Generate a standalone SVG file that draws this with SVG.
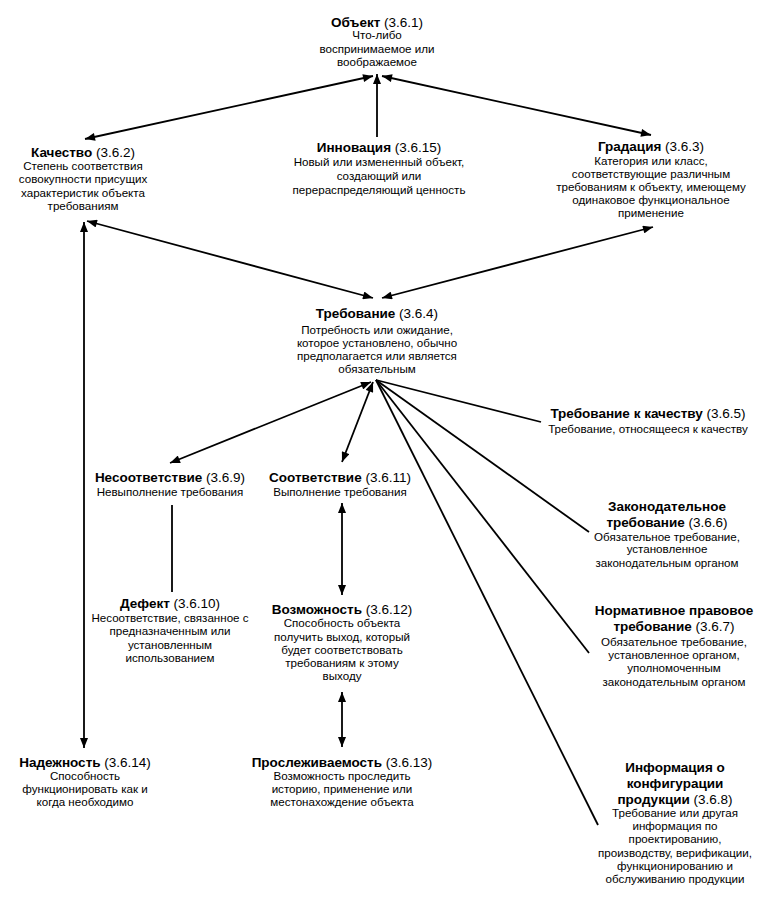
<svg xmlns="http://www.w3.org/2000/svg" width="767" height="899" viewBox="0 0 767 899">
<style>
text{font-family:"Liberation Sans",Arial,sans-serif;text-anchor:middle;fill:#000}
.t{font-size:13.5px}
.t tspan.b{font-weight:bold}
.d{font-size:11.6px}
.e{stroke:#000;stroke-width:1.8;fill:none}
.a2{marker-start:url(#ah);marker-end:url(#ah)}
.a1{marker-end:url(#ah)}
</style>
<defs>
<marker id="ah" viewBox="0 0 10 8" refX="10" refY="4" markerWidth="11" markerHeight="8" markerUnits="userSpaceOnUse" orient="auto-start-reverse">
<path d="M0,0 L10,4 L0,8 Z" fill="#000"/>
</marker>
</defs>
<rect width="767" height="899" fill="#fff"/>
<g id="connectors">
<line class="e a2" x1="85" y1="139" x2="373" y2="76"/>
<line class="e a1" x1="377" y1="137" x2="377" y2="74"/>
<line class="e a2" x1="651" y1="135" x2="382" y2="76"/>
<line class="e a2" x1="87" y1="221" x2="373" y2="298"/>
<line class="e a2" x1="653" y1="227" x2="382" y2="298"/>
<line class="e a2" x1="84" y1="222" x2="84" y2="748"/>
<line class="e a2" x1="371" y1="382" x2="170" y2="463"/>
<line class="e a2" x1="373" y1="382" x2="342" y2="462"/>
<line class="e" x1="376" y1="380" x2="541" y2="422"/>
<line class="e" x1="376" y1="380" x2="589" y2="532"/>
<line class="e" x1="376" y1="380" x2="589" y2="653"/>
<line class="e" x1="376" y1="380" x2="598" y2="825"/>
<line class="e" x1="172" y1="505" x2="172" y2="592"/>
<line class="e a2" x1="342" y1="503" x2="342" y2="595"/>
<line class="e a2" x1="342" y1="692" x2="342" y2="747"/>
</g>
<g id="n361">
<text class="t" x="377" y="27"><tspan class="b">Объект</tspan> (3.6.1)</text>
<text class="d" x="377" y="39">Что-либо</text>
<text class="d" x="377" y="53">воспринимаемое или</text>
<text class="d" x="377" y="66">воображаемое</text>
</g>
<g id="n362">
<text class="t" x="83" y="157"><tspan class="b">Качество</tspan> (3.6.2)</text>
<text class="d" x="83" y="170">Степень соответствия</text>
<text class="d" x="83" y="183">совокупности присущих</text>
<text class="d" x="83" y="197">характеристик объекта</text>
<text class="d" x="83" y="210">требованиям</text>
</g>
<g id="n3615">
<text class="t" x="379" y="152"><tspan class="b">Инновация</tspan> (3.6.15)</text>
<text class="d" x="379" y="166">Новый или измененный объект,</text>
<text class="d" x="379" y="180">создающий или</text>
<text class="d" x="379" y="194">перераспределяющий ценность</text>
</g>
<g id="n363">
<text class="t" x="651" y="151"><tspan class="b">Градация</tspan> (3.6.3)</text>
<text class="d" x="651" y="165">Категория или класс,</text>
<text class="d" x="651" y="178">соответствующие различным</text>
<text class="d" x="651" y="191">требованиям к объекту, имеющему</text>
<text class="d" x="651" y="204">одинаковое функциональное</text>
<text class="d" x="651" y="217">применение</text>
</g>
<g id="n364">
<text class="t" x="377" y="318"><tspan class="b">Требование</tspan> (3.6.4)</text>
<text class="d" x="377" y="334">Потребность или ожидание,</text>
<text class="d" x="377" y="347">которое установлено, обычно</text>
<text class="d" x="377" y="360">предполагается или является</text>
<text class="d" x="377" y="373">обязательным</text>
</g>
<g id="n365">
<text class="t" x="648" y="418"><tspan class="b">Требование к качеству</tspan> (3.6.5)</text>
<text class="d" x="648" y="433">Требование, относящееся к качеству</text>
</g>
<g id="n366">
<text class="t" x="667" y="511"><tspan class="b">Законодательное</tspan></text>
<text class="t" x="667" y="527"><tspan class="b">требование</tspan> (3.6.6)</text>
<text class="d" x="667" y="541">Обязательное требование,</text>
<text class="d" x="667" y="553">установленное</text>
<text class="d" x="667" y="567">законодательным органом</text>
</g>
<g id="n367">
<text class="t" x="674" y="615"><tspan class="b">Нормативное правовое</tspan></text>
<text class="t" x="674" y="631"><tspan class="b">требование</tspan> (3.6.7)</text>
<text class="d" x="674" y="646">Обязательное требование,</text>
<text class="d" x="674" y="659">установленное органом,</text>
<text class="d" x="674" y="672">уполномоченным</text>
<text class="d" x="674" y="686">законодательным органом</text>
</g>
<g id="n368">
<text class="t" x="675" y="772"><tspan class="b">Информация о</tspan></text>
<text class="t" x="675" y="788"><tspan class="b">конфигурации</tspan></text>
<text class="t" x="675" y="804"><tspan class="b">продукции</tspan> (3.6.8)</text>
<text class="d" x="675" y="817">Требование или другая</text>
<text class="d" x="675" y="830">информация по</text>
<text class="d" x="675" y="843">проектированию,</text>
<text class="d" x="675" y="857">производству, верификации,</text>
<text class="d" x="675" y="870">функционированию и</text>
<text class="d" x="675" y="883">обслуживанию продукции</text>
</g>
<g id="n369">
<text class="t" x="170" y="482"><tspan class="b">Несоответствие</tspan> (3.6.9)</text>
<text class="d" x="170" y="496">Невыполнение требования</text>
</g>
<g id="n3611">
<text class="t" x="340" y="482"><tspan class="b">Соответствие</tspan> (3.6.11)</text>
<text class="d" x="340" y="496">Выполнение требования</text>
</g>
<g id="n3610">
<text class="t" x="170" y="608"><tspan class="b">Дефект</tspan> (3.6.10)</text>
<text class="d" x="170" y="622">Несоответствие, связанное с</text>
<text class="d" x="170" y="635">предназначенным или</text>
<text class="d" x="170" y="649">установленным</text>
<text class="d" x="170" y="662">использованием</text>
</g>
<g id="n3612">
<text class="t" x="342" y="614"><tspan class="b">Возможность</tspan> (3.6.12)</text>
<text class="d" x="342" y="627">Способность объекта</text>
<text class="d" x="342" y="641">получить выход, который</text>
<text class="d" x="342" y="654">будет соответствовать</text>
<text class="d" x="342" y="667">требованиям к этому</text>
<text class="d" x="342" y="680">выходу</text>
</g>
<g id="n3614">
<text class="t" x="85" y="767"><tspan class="b">Надежность</tspan> (3.6.14)</text>
<text class="d" x="85" y="780">Способность</text>
<text class="d" x="85" y="793">функционировать как и</text>
<text class="d" x="85" y="806">когда необходимо</text>
</g>
<g id="n3613">
<text class="t" x="342" y="767"><tspan class="b">Прослеживаемость</tspan> (3.6.13)</text>
<text class="d" x="342" y="780">Возможность проследить</text>
<text class="d" x="342" y="793">историю, применение или</text>
<text class="d" x="342" y="806">местонахождение объекта</text>
</g>
</svg>
